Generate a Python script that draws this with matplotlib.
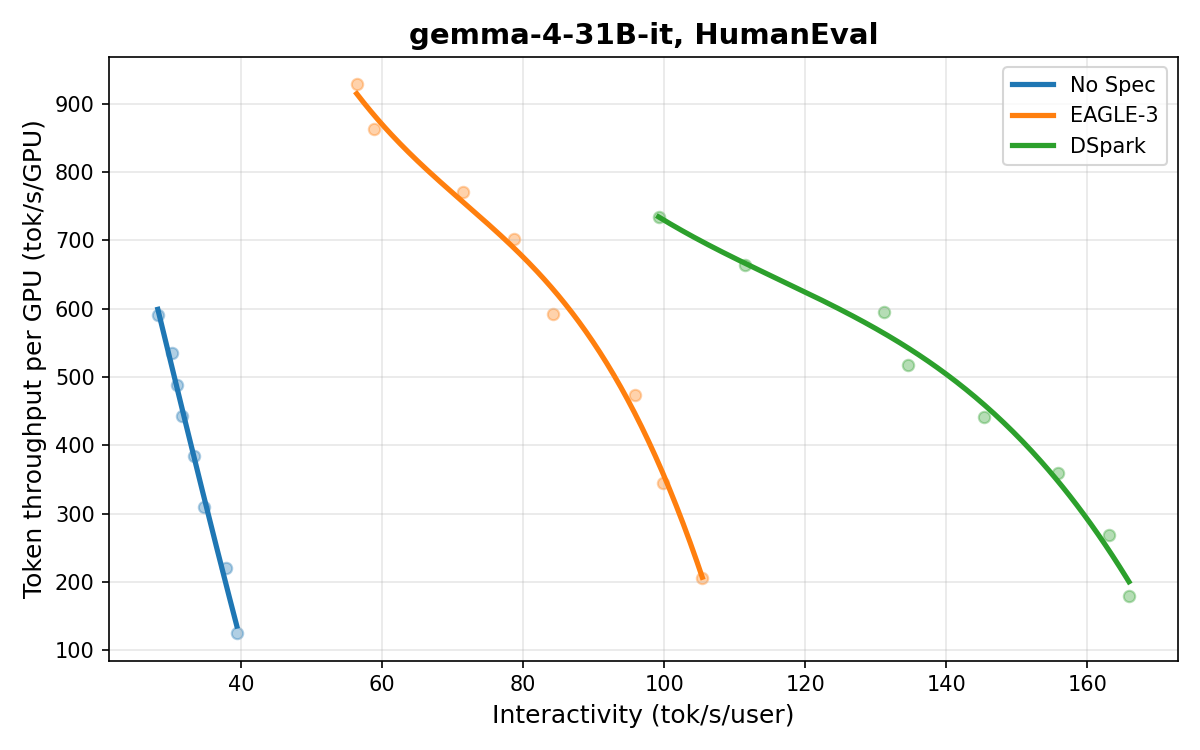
import numpy as np
import matplotlib
matplotlib.use("Agg")
import matplotlib.pyplot as plt

# values
nospec_x = [28.2, 30.2, 30.9, 31.6, 33.3, 34.7, 37.8, 39.4]
nospec_y = [591, 535, 488, 443, 384, 310, 221, 125]

eagle_x = [56.4, 58.8, 71.4, 78.7, 84.3, 95.9, 99.9, 105.4]
eagle_y = [928, 863, 771, 702, 592, 474, 345, 205]

dspark_x = [99.2, 111.5, 131.2, 134.5, 145.3, 155.9, 163.1, 165.9]
dspark_y = [734, 664, 595, 518, 442, 359, 268, 179]

series = [
    ("No Spec", nospec_x, nospec_y, "tab:blue"),
    ("EAGLE-3", eagle_x, eagle_y, "tab:orange"),
    ("DSpark", dspark_x, dspark_y, "tab:green"),
]

fig, ax = plt.subplots(figsize=(8, 5), dpi=150)

for name, xs, ys, col in series:
    xs = np.array(xs)
    ys = np.array(ys)
    ax.scatter(xs, ys, color=col, alpha=0.35, s=30)
    # smooth fit through the points
    coef = np.polyfit(xs, ys, 3)
    xx = np.linspace(xs.min(), xs.max(), 200)
    ax.plot(xx, np.polyval(coef, xx), color=col, lw=2.5, label=name)

ax.set_title("gemma-4-31B-it, HumanEval", fontsize=14, fontweight="bold")
ax.set_xlabel("Interactivity (tok/s/user)", fontsize=12)
ax.set_ylabel("Token throughput per GPU (tok/s/GPU)", fontsize=12)
ax.grid(True, alpha=0.3)
ax.legend(loc="upper right", fontsize=10)

plt.tight_layout()
plt.savefig("out.png")
